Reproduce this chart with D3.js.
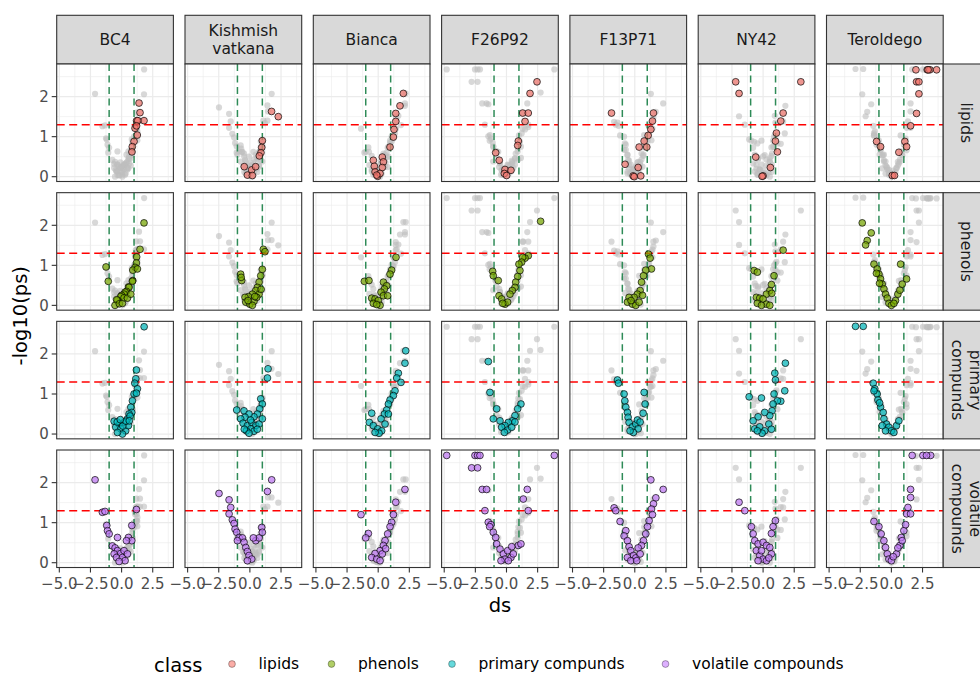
<!DOCTYPE html>
<html>
<head>
<meta charset="utf-8">
<script src="https://cdn.jsdelivr.net/npm/d3@7"></script>
<style>
  html, body { margin: 0; padding: 0; background: #ffffff; }
  svg { display: block; font-family: "DejaVu Sans", sans-serif; }
</style>
</head>
<body>
<svg id="chart" width="980" height="673"></svg>
<script>
// Facet labels, class names and palette
const genotypes = ["BC4", "Kishmish\nvatkana", "Bianca", "F26P92", "F13P71", "NY42", "Teroldego"];
const classes = ["lipids", "phenols", "primary compunds", "volatile compounds"];
const classStripLabels = ["lipids", "phenols", "primary\ncompunds", "volatile\ncompounds"];
const classColors = ["#F8766D", "#7CAE00", "#00BFC4", "#C77CFF"];
const xTicks = [-5, -2.5, 0, 2.5];
const xMinor = [-3.75, -1.25, 1.25, 3.75];
const yTicks = [0, 1, 2];
const yMinor = [0.5, 1.5, 2.5];
const dsCutoffs = [-1, 1];
const psCutoff = 1.3;

// [ds, -log10(ps)] per genotype and class
const bc4Lipids = [[1.40,1.84],[1.48,1.60],[1.21,1.40],[1.80,1.40],[1.30,1.40],[1.08,1.21],[1.20,1.27],[1.26,1.04],[1.00,0.88],[0.86,0.75],[0.83,0.62]];
const bc4Phenols = [[1.80,2.06],[1.48,1.40],[1.21,1.21],[1.19,1.06],[1.08,0.95],[0.90,0.88],[1.27,0.91],[-1.25,0.96],[-1.07,0.60],[0.90,0.62],[0.87,0.60],[0.55,0.46],[0.60,0.45],[0.39,0.35],[0.28,0.33],[0.20,0.28],[0.00,0.25],[-0.07,0.22],[-0.33,0.13],[-0.40,0.14],[-0.53,0.00],[-0.18,0.04],[0.07,0.05],[0.20,0.19],[0.47,0.18],[0.74,0.28]];
const bc4Primary = [[1.81,2.68],[1.19,1.60],[1.14,1.38],[1.06,1.27],[1.27,1.13],[1.00,1.00],[1.19,1.02],[0.87,0.83],[0.74,0.67],[0.82,0.54],[0.60,0.50],[0.47,0.38],[0.20,0.29],[-0.20,0.25],[-0.60,0.32],[-0.47,0.17],[-0.07,0.13],[0.33,0.08],[0.07,0.00],[-0.33,0.04],[0.55,0.21],[0.68,0.45],[-0.35,0.30],[0.10,0.20],[0.35,0.32],[-0.10,0.36],[0.62,0.33]];
const bc4Volatile = [[-2.13,2.07],[-1.54,1.26],[-1.33,1.28],[-1.19,0.93],[-1.13,0.80],[-1.00,0.72],[-0.33,0.63],[0.82,0.93],[1.19,1.33],[0.55,0.63],[0.82,0.55],[0.39,0.55],[-0.74,0.42],[-0.52,0.37],[-0.33,0.30],[-0.07,0.23],[-0.60,0.22],[-0.41,0.13],[0.07,0.13],[0.28,0.05],[-0.20,0.03],[0.20,0.30],[0.47,0.22]];

const kishLipids = [[1.74,1.63],[2.28,1.50],[1.00,0.90],[0.95,0.73],[0.89,0.60],[0.76,0.52],[-0.45,0.25],[0.14,0.17],[0.46,0.25],[-0.20,0.04],[0.20,0.03]];
const kishPhenols = [[1.08,1.40],[1.21,1.34],[-0.74,0.78],[-0.66,0.62],[-0.70,0.70],[1.00,0.90],[0.87,0.74],[0.74,0.58],[0.60,0.45],[0.47,0.37],[0.20,0.28],[-0.12,0.22],[-0.39,0.20],[-0.33,0.08],[0.00,0.03],[0.33,0.10],[0.20,0.00],[0.74,0.28],[0.55,0.20],[-0.15,0.12],[0.40,0.22],[0.90,0.40]];
const kishPrimary = [[1.46,1.63],[1.41,1.40],[-1.06,0.60],[-0.47,0.58],[0.87,0.88],[1.00,0.75],[0.79,0.63],[0.60,0.50],[0.33,0.43],[-0.07,0.50],[-0.39,0.42],[-0.74,0.38],[-0.55,0.27],[-0.20,0.21],[0.15,0.29],[0.47,0.21],[0.07,0.13],[-0.28,0.08],[0.33,0.07],[-0.07,0.02],[0.74,0.25],[1.00,0.38],[-0.45,0.12],[0.05,0.35],[0.60,0.12]];
const kishVolatile = [[1.75,2.07],[1.41,1.78],[-2.48,1.73],[-1.67,1.57],[-1.54,1.38],[-1.67,1.22],[-1.41,1.07],[-1.27,0.98],[-1.19,0.84],[-1.06,0.76],[-0.87,0.63],[-0.60,0.62],[-0.47,0.51],[-0.33,0.38],[-0.20,0.28],[-0.07,0.18],[0.15,0.09],[-0.20,0.05],[0.47,0.55],[0.74,0.62],[0.95,0.88],[0.28,0.62],[1.00,0.76],[-1.00,0.55]];

const biancaLipids = [[2.02,2.08],[1.75,1.77],[1.41,1.58],[1.41,1.38],[1.27,1.18],[1.22,0.99],[0.95,0.74],[0.33,0.49],[0.42,0.37],[-0.39,0.41],[-0.31,0.26],[0.33,0.23],[-0.25,0.12],[-0.04,0.01],[0.15,0.08],[-0.12,0.04]];
const biancaPhenols = [[1.43,1.20],[1.08,0.88],[0.95,0.78],[-1.11,0.60],[-0.74,0.62],[0.42,0.58],[0.68,0.49],[0.50,0.41],[0.23,0.33],[-0.52,0.18],[-0.25,0.16],[0.01,0.12],[0.42,0.24],[0.76,0.24],[-0.39,0.05],[0.15,0.00],[-0.12,0.02]];
const biancaPrimary = [[2.21,2.08],[2.15,1.77],[1.62,1.52],[1.49,1.40],[1.83,1.29],[1.35,1.08],[1.22,0.96],[0.95,0.85],[0.82,0.75],[0.68,0.60],[0.50,0.50],[0.23,0.38],[-0.52,0.52],[-0.71,0.29],[-0.39,0.21],[-0.04,0.13],[0.28,0.08],[0.07,0.02],[-0.25,0.04],[0.55,0.25],[0.82,0.50]];
const biancaVolatile = [[2.15,1.83],[1.41,1.51],[-1.38,1.20],[1.22,1.20],[1.08,1.01],[0.95,0.90],[0.76,0.72],[0.55,0.55],[0.42,0.43],[0.15,0.30],[-0.25,0.23],[-0.52,0.13],[-0.12,0.09],[0.15,0.05],[-0.79,0.73],[-1.00,0.62],[0.33,0.22],[0.60,0.35]];

const f26Lipids = [[2.45,2.37],[1.89,2.08],[1.30,1.59],[1.75,1.59],[1.49,1.38],[0.95,0.89],[0.90,0.78],[-0.87,0.60],[-0.58,0.41],[-0.12,0.18],[0.36,0.16],[-0.17,0.08],[0.01,0.03]];
const f26Phenols = [[2.74,2.10],[1.75,1.24],[1.49,1.18],[1.30,1.20],[1.22,1.08],[1.00,1.03],[1.08,0.87],[0.90,0.72],[0.74,0.58],[0.68,0.45],[0.47,0.37],[0.28,0.28],[-1.11,0.85],[-1.06,0.74],[-0.66,0.62],[-0.60,0.24],[-0.39,0.16],[-0.12,0.03],[0.09,0.08],[-0.30,0.05]];
const f26Primary = [[-1.46,1.81],[-1.33,1.04],[-0.79,0.63],[-1.06,0.38],[1.16,0.75],[0.90,0.63],[0.68,0.46],[0.47,0.33],[0.15,0.29],[-0.12,0.21],[-0.52,0.33],[-0.39,0.17],[0.09,0.10],[-0.17,0.04],[0.42,0.17],[0.68,0.30]];
const f26Volatile = [[-4.80,2.68],[-2.53,2.68],[-2.32,2.68],[-2.13,2.68],[3.84,2.68],[-2.80,2.37],[-2.32,2.37],[-1.95,1.83],[-1.60,1.83],[-1.73,1.30],[-1.46,1.01],[-1.25,0.95],[-1.35,0.90],[-1.06,0.76],[-0.87,0.63],[1.67,1.83],[1.35,1.59],[1.75,1.30],[-0.79,0.47],[-0.52,0.34],[-0.25,0.22],[0.09,0.30],[0.36,0.13],[-0.12,0.09],[0.15,0.05],[0.55,0.22],[0.95,0.43],[1.16,0.47],[-0.44,0.05],[0.42,0.40]];

const f13Lipids = [[-1.87,1.59],[1.50,1.59],[1.42,1.39],[1.29,1.18],[1.07,1.03],[0.75,0.89],[0.96,0.74],[0.35,0.74],[-0.78,0.31],[0.27,0.23],[0.48,0.02],[-0.13,0.02],[-0.05,0.00]];
const f13Phenols = [[1.10,1.28],[1.23,1.18],[1.34,0.91],[0.88,0.88],[0.70,0.74],[0.54,0.58],[0.43,0.37],[0.21,0.28],[-0.05,0.20],[-0.46,0.20],[-0.59,0.08],[-0.19,0.03],[0.08,0.00],[0.35,0.08],[0.62,0.25],[-0.30,0.12]];
const f13Primary = [[-1.39,1.35],[-1.31,1.27],[-0.86,1.00],[-0.80,0.83],[0.75,1.04],[0.83,0.75],[0.67,0.52],[-0.72,0.67],[-0.59,0.54],[-0.54,0.42],[-0.46,0.29],[-0.19,0.18],[0.08,0.25],[0.21,0.35],[0.27,0.13],[-0.11,0.04],[-0.38,0.08],[0.43,0.30]];
const f13Volatile = [[1.29,2.07],[2.28,1.83],[1.69,1.62],[1.50,1.47],[1.34,1.34],[1.42,1.20],[-1.66,1.37],[-1.53,1.30],[-1.18,1.03],[1.15,1.05],[1.02,0.90],[0.88,0.72],[0.70,0.55],[0.54,0.43],[0.27,0.37],[-0.72,0.80],[-0.86,0.67],[-0.59,0.55],[-0.46,0.40],[-0.32,0.30],[-0.11,0.18],[0.08,0.12],[-0.59,0.13],[-0.32,0.05],[0.16,0.05],[0.43,0.22]];

const ny42Lipids = [[-2.20,2.37],[-1.93,2.08],[3.03,2.37],[1.61,1.59],[1.42,1.39],[1.07,1.09],[0.99,0.89],[1.15,0.62],[-0.59,0.49],[0.59,0.23],[0.00,0.02],[-0.08,0.01]];
const ny42Phenols = [[1.61,1.38],[-0.72,0.87],[-0.46,0.83],[0.88,0.74],[0.67,0.52],[0.54,0.37],[0.27,0.28],[-0.54,0.20],[-0.27,0.18],[0.00,0.16],[-0.46,0.05],[0.27,0.03],[0.54,0.00],[-0.13,0.00],[0.70,0.30]];
const ny42Primary = [[1.79,1.77],[0.94,1.52],[0.99,1.35],[1.74,1.08],[1.42,0.82],[1.15,0.83],[-1.12,0.93],[-0.13,0.90],[0.88,1.00],[0.80,0.75],[0.72,0.58],[0.54,0.46],[0.13,0.54],[-0.40,0.43],[-0.80,0.33],[-0.67,0.13],[-0.27,0.18],[0.13,0.08],[0.46,0.25],[-0.08,0.02],[-0.46,0.08],[0.67,0.12]];
const ny42Volatile = [[-1.93,1.51],[-1.47,1.30],[0.99,1.05],[0.80,0.90],[0.67,0.73],[-0.94,0.90],[-0.80,0.72],[-0.67,0.55],[-0.40,0.47],[0.00,0.51],[0.27,0.43],[0.54,0.38],[0.67,0.22],[-0.54,0.30],[-0.27,0.18],[0.00,0.09],[0.27,0.05],[0.46,0.12],[-0.40,0.05],[-0.13,0.30]];

const terLipids = [[1.97,2.67],[2.88,2.67],[3.09,2.67],[3.63,2.67],[2.95,2.67],[2.02,2.37],[2.21,2.37],[2.21,2.07],[2.02,1.58],[1.54,1.27],[1.08,0.88],[1.22,0.75],[0.60,0.61],[-1.19,0.88],[-0.87,0.75],[0.07,0.03],[0.25,0.03]];
const terPhenols = [[-2.34,2.06],[-1.62,1.81],[-1.94,1.62],[-2.07,1.51],[-1.40,1.03],[-1.14,0.91],[-1.00,0.78],[-0.87,0.66],[-0.74,0.53],[-0.60,0.41],[-0.47,0.28],[-0.33,0.18],[-0.20,0.05],[0.00,0.00],[0.33,0.12],[0.52,0.28],[0.68,0.38],[0.74,1.03],[1.22,0.66],[0.87,0.53],[-1.20,0.80],[-0.95,0.55],[0.20,0.05]];
const terPrimary = [[-2.88,2.69],[-2.26,2.69],[-1.46,1.27],[-1.33,1.13],[-1.14,1.00],[-1.08,0.85],[-0.87,0.67],[-0.66,0.54],[-0.60,0.38],[-0.39,0.25],[-0.20,0.17],[0.00,0.08],[0.20,0.04],[0.41,0.21],[0.60,0.33],[-0.47,0.08],[-0.74,0.21],[-1.40,1.08],[-0.95,0.78]];
const terVolatile = [[1.67,2.68],[2.53,2.68],[3.15,2.68],[2.82,2.68],[1.54,1.83],[1.54,1.63],[1.33,1.38],[1.22,1.22],[1.54,1.22],[-1.40,1.03],[-1.00,0.90],[-0.82,0.72],[-0.60,0.55],[-0.47,0.38],[-0.33,0.22],[-0.20,0.09],[0.00,0.05],[0.41,0.22],[0.68,0.43],[0.79,0.63],[1.00,0.80],[1.14,0.95],[0.87,0.55],[0.52,0.37],[0.15,0.15]];

// Per genotype: one list per class, in the order of `classes`
const byGenotype = [
  [bc4Lipids, bc4Phenols, bc4Primary, bc4Volatile],
  [kishLipids, kishPhenols, kishPrimary, kishVolatile],
  [biancaLipids, biancaPhenols, biancaPrimary, biancaVolatile],
  [f26Lipids, f26Phenols, f26Primary, f26Volatile],
  [f13Lipids, f13Phenols, f13Primary, f13Volatile],
  [ny42Lipids, ny42Phenols, ny42Primary, ny42Volatile],
  [terLipids, terPhenols, terPrimary, terVolatile]
];

// Layout
const panelLeft = 56.7, colStep = 128.3, panelW = 116.7;
const panelTop = 64, rowStep = 128.67, panelH = 117.5;
const stripTop = 15.3, stripRightW = 46;
const textDark = "#1A1A1A", textAxis = "#4D4D4D", frame = "#333333";

const svg = d3.select("#chart");

const x = d3.scaleLinear().domain([-5.21, 4.16]).range([0, panelW]);
const y = d3.scaleLinear().domain([-0.12, 2.815]).range([panelH, 0]);

genotypes.forEach((g, ci) => {
  const px = panelLeft + ci * colStep;
  const all = byGenotype[ci].flat();

  // column strip
  svg.append("rect")
    .attr("x", px).attr("y", stripTop)
    .attr("width", panelW).attr("height", panelTop - stripTop)
    .attr("fill", "#D9D9D9").attr("stroke", frame).attr("stroke-width", 1.1);
  const lines = g.split("\n");
  const st = svg.append("text")
    .attr("text-anchor", "middle")
    .attr("font-size", 15.5).attr("fill", textDark);
  lines.forEach((ln, i) => {
    st.append("tspan")
      .attr("x", px + panelW / 2)
      .attr("y", (stripTop + panelTop) / 2 + 5.8 + (i - (lines.length - 1) / 2) * 18)
      .text(ln);
  });

  classes.forEach((cls, ri) => {
    const py = panelTop + ri * rowStep;
    const p = svg.append("g").attr("transform", `translate(${px},${py})`);

    p.append("rect").attr("width", panelW).attr("height", panelH).attr("fill", "#ffffff");

    // grid
    p.selectAll(".gxm").data(xMinor).join("line")
      .attr("x1", d => x(d)).attr("x2", d => x(d)).attr("y1", 0).attr("y2", panelH)
      .attr("stroke", "#EBEBEB").attr("stroke-width", 0.6);
    p.selectAll(".gym").data(yMinor).join("line")
      .attr("y1", d => y(d)).attr("y2", d => y(d)).attr("x1", 0).attr("x2", panelW)
      .attr("stroke", "#EBEBEB").attr("stroke-width", 0.6);
    p.selectAll(".gx").data(xTicks).join("line")
      .attr("x1", d => x(d)).attr("x2", d => x(d)).attr("y1", 0).attr("y2", panelH)
      .attr("stroke", "#EBEBEB").attr("stroke-width", 1.2);
    p.selectAll(".gy").data(yTicks).join("line")
      .attr("y1", d => y(d)).attr("y2", d => y(d)).attr("x1", 0).attr("x2", panelW)
      .attr("stroke", "#EBEBEB").attr("stroke-width", 1.2);

    const clipId = `clip-${ci}-${ri}`;
    p.append("clipPath").attr("id", clipId)
      .append("rect").attr("width", panelW).attr("height", panelH);
    const inner = p.append("g").attr("clip-path", `url(#${clipId})`);

    // every compound of the genotype in grey
    inner.selectAll(".bg").data(all).join("circle")
      .attr("cx", d => x(d[0])).attr("cy", d => y(d[1])).attr("r", 3.1)
      .attr("fill", "#BEBEBE").attr("fill-opacity", 0.6);

    // threshold lines
    inner.selectAll(".vl").data(dsCutoffs).join("line")
      .attr("x1", d => x(d)).attr("x2", d => x(d)).attr("y1", 0).attr("y2", panelH)
      .attr("stroke", "#2E8B57").attr("stroke-width", 1.5).attr("stroke-dasharray", "7,4.5");
    inner.append("line")
      .attr("x1", 0).attr("x2", panelW).attr("y1", y(psCutoff)).attr("y2", y(psCutoff))
      .attr("stroke", "#FF0000").attr("stroke-width", 1.5).attr("stroke-dasharray", "8,4.5");

    // the class of this row in colour
    inner.selectAll(".fg").data(byGenotype[ci][ri]).join("circle")
      .attr("cx", d => x(d[0])).attr("cy", d => y(d[1])).attr("r", 3.4)
      .attr("fill", classColors[ri]).attr("fill-opacity", 0.68)
      .attr("stroke", "#000000").attr("stroke-opacity", 0.72).attr("stroke-width", 0.95);

    p.append("rect").attr("width", panelW).attr("height", panelH)
      .attr("fill", "none").attr("stroke", frame).attr("stroke-width", 1.1);

    // y axis on first column
    if (ci === 0) {
      yTicks.forEach(t => {
        p.append("line").attr("x1", -5).attr("x2", 0).attr("y1", y(t)).attr("y2", y(t))
          .attr("stroke", frame).attr("stroke-width", 1.1);
        p.append("text").attr("x", -8).attr("y", y(t)).attr("dy", "0.36em")
          .attr("text-anchor", "end").attr("font-size", 15).attr("fill", textAxis)
          .text(d3.format("d")(t));
      });
    }
    // x axis on last row
    if (ri === classes.length - 1) {
      xTicks.forEach(t => {
        p.append("line").attr("x1", x(t)).attr("x2", x(t)).attr("y1", panelH).attr("y2", panelH + 5)
          .attr("stroke", frame).attr("stroke-width", 1.1);
        p.append("text").attr("x", x(t)).attr("y", panelH + 21.5)
          .attr("text-anchor", "middle").attr("font-size", 15).attr("fill", textAxis)
          .text(d3.format(".1f")(t));
      });
    }
    // row strip on last column
    if (ci === genotypes.length - 1) {
      const sx = panelW;
      p.append("rect").attr("x", sx).attr("y", 0).attr("width", stripRightW).attr("height", panelH)
        .attr("fill", "#D9D9D9").attr("stroke", frame).attr("stroke-width", 1.1);
      const parts = classStripLabels[ri].split("\n");
      const rt = p.append("text")
        .attr("transform", `translate(${sx + stripRightW / 2},${panelH / 2}) rotate(90)`)
        .attr("text-anchor", "middle").attr("font-size", 15.5).attr("fill", textDark);
      parts.forEach((ln, i) => {
        rt.append("tspan").attr("x", 0)
          .attr("y", 5.5 + (i - (parts.length - 1) / 2) * 18)
          .text(ln);
      });
    }
  });
});

// axis titles
const plotMidX = panelLeft + (genotypes.length - 1) * colStep / 2 + panelW / 2;
svg.append("text").attr("x", plotMidX).attr("y", 611.5)
  .attr("text-anchor", "middle").attr("font-size", 19.5).attr("fill", "#000000").text("ds");
const plotMidY = panelTop + ((classes.length - 1) * rowStep + panelH) / 2;
svg.append("text").attr("transform", `translate(26.5,${plotMidY}) rotate(-90)`)
  .attr("text-anchor", "middle").attr("font-size", 19.5).attr("fill", "#000000").text("-log10(ps)");

// legend
const legendY = 664;
svg.append("text").attr("x", 154).attr("y", legendY + 7.5)
  .attr("font-size", 19.5).attr("fill", "#000000").text("class");
const keyX = [232, 331.5, 452, 665.5];
classes.forEach((cls, i) => {
  svg.append("circle").attr("cx", keyX[i]).attr("cy", legendY).attr("r", 3.4)
    .attr("fill", classColors[i]).attr("fill-opacity", 0.6)
    .attr("stroke", "#000000").attr("stroke-opacity", 0.45).attr("stroke-width", 0.7);
  svg.append("text").attr("x", keyX[i] + 26.5).attr("y", legendY + 5.2)
    .attr("font-size", 15.5).attr("fill", "#000000").text(cls);
});
</script>
</body>
</html>
